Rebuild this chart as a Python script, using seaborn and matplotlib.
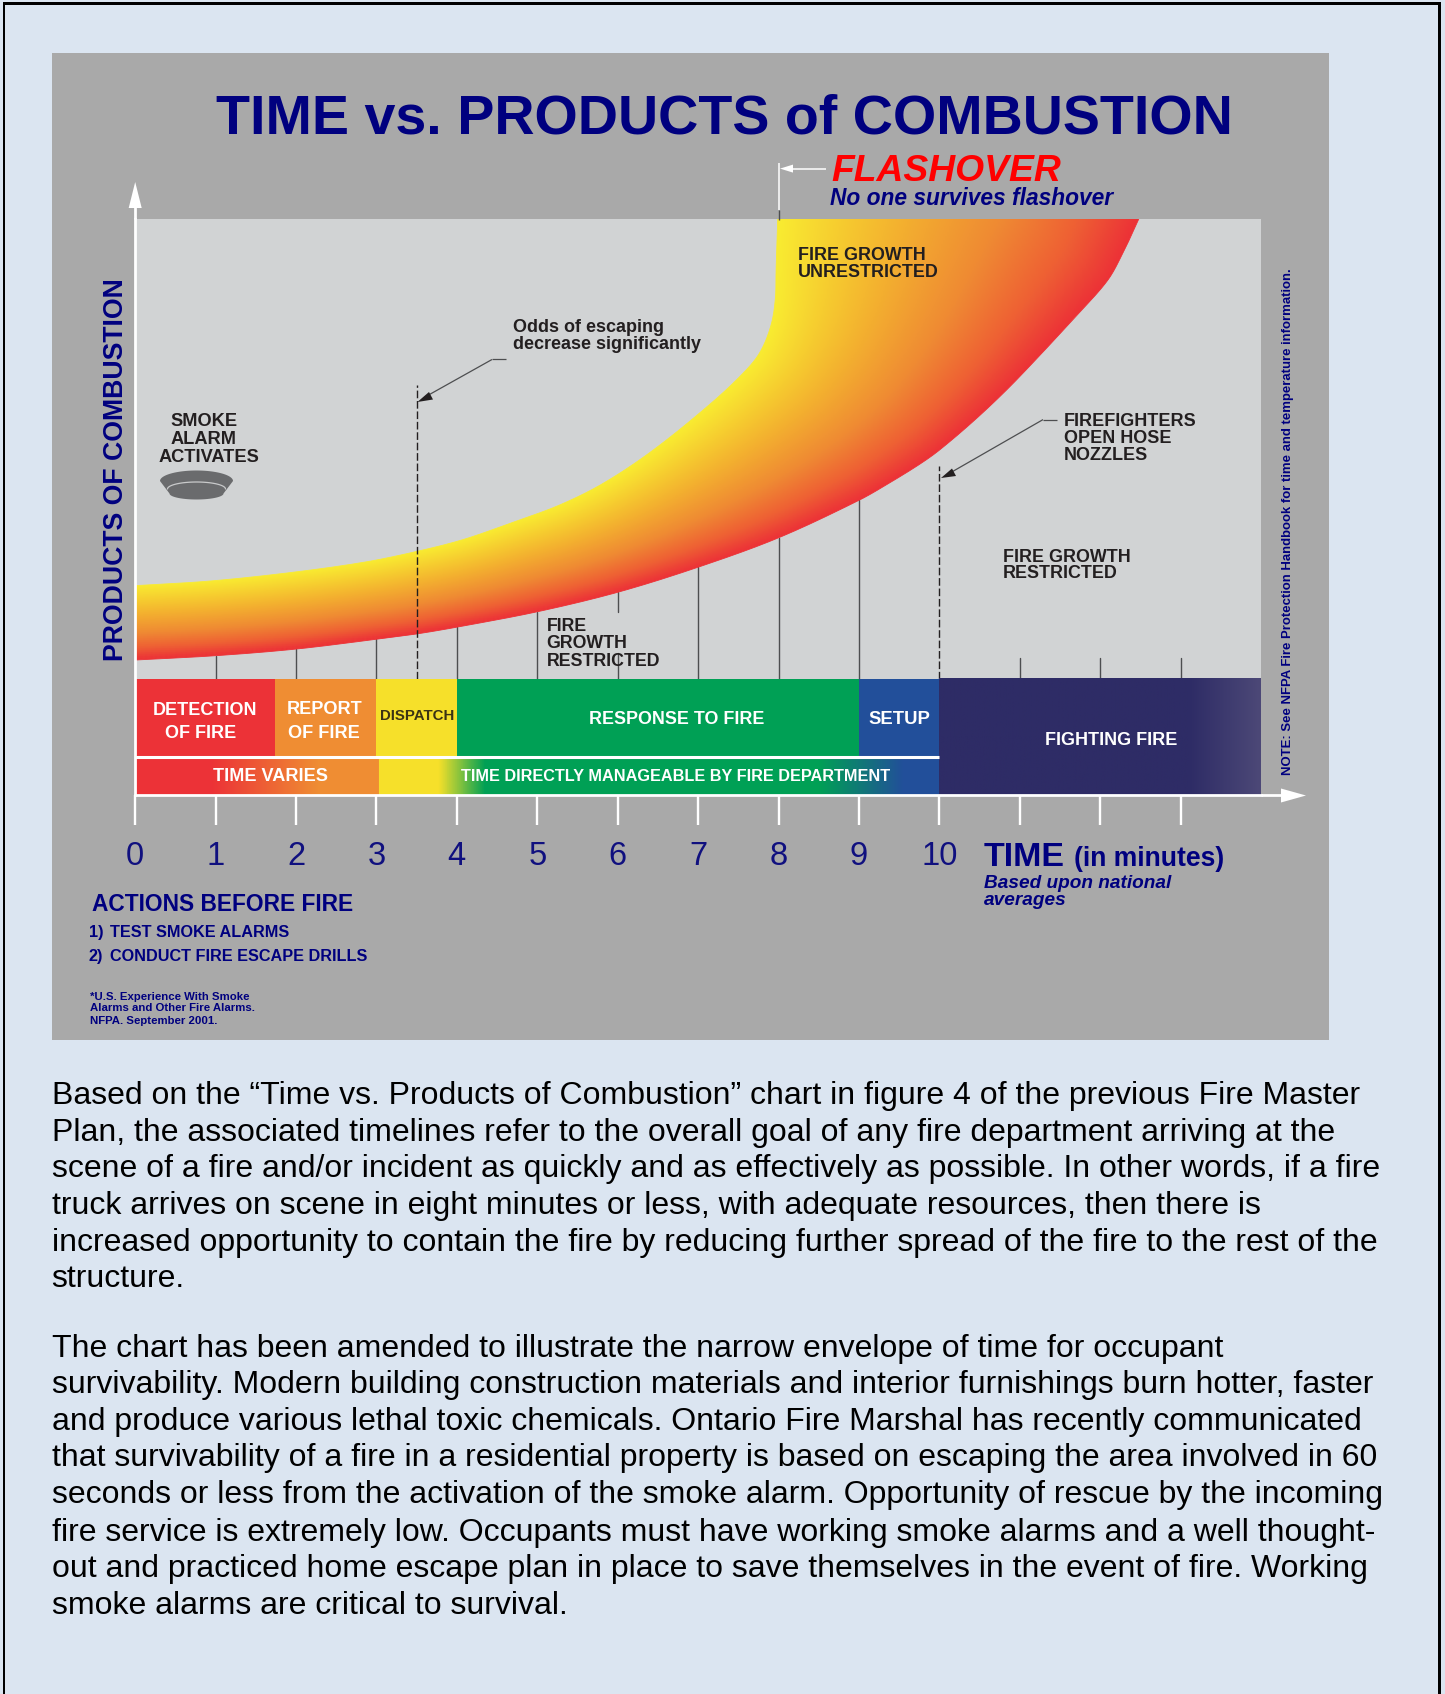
import numpy as np
import matplotlib
matplotlib.use("Agg")
import matplotlib.pyplot as plt
from matplotlib.colors import LinearSegmentedColormap
from matplotlib.patches import Polygon, Rectangle
import seaborn as sns

# Flame envelope: time in minutes against products of combustion (0-100 scale)
upper_minutes = [0, 0.93, 1.92, 2.84, 3.49, 4.08, 4.70, 5.28, 5.82, 6.44, 7.15, 7.57, 7.77, 7.905, 7.96, 7.97, 7.99]
upper_products = [36.4, 37.2, 38.65, 40.45, 42.3, 44.4, 47.4, 50.4, 54.15, 59.9, 67.9, 73.4, 76.9, 81.5, 86.1, 91.3, 100.0]
lower_minutes = [0, 1.0, 2.0, 3.0, 3.49, 4.0, 5.01, 6.0, 7.0, 8.0, 9.0, 9.39, 9.76, 10.0, 10.43, 10.84, 11.26, 11.67, 12.09, 12.29, 12.48]
lower_products = [23.5, 24.25, 25.4, 27.1, 28.0, 29.2, 31.9, 35.25, 39.6, 44.7, 51.2, 54.3, 57.5, 59.9, 65.0, 70.4, 76.5, 82.7, 89.3, 94.3, 100.0]

# Timeline phases along the bottom of the chart
phase_names = ["DETECTION\nOF FIRE", "REPORT\nOF FIRE", "DISPATCH", "RESPONSE TO FIRE", "SETUP"]
phase_starts = [0, 1.74, 3, 4, 9]
phase_ends = [1.74, 3, 4, 9, 10]
phase_colors = ["#ec3237", "#ef8d33", "#f6e02a", "#00a055", "#224f9a"]

minute_ticks = list(range(14))
minute_labels = ["0", "1", "2", "3", "4", "5", "6", "7", "8", "9", "10", "", "", ""]

NAVY = "#00007f"
DARK = "#231f20"
W, H = 1445, 1694
BODY = ["Based on the \u201cTime vs. Products of Combustion\u201d chart in figure 4 of the previous Fire Master",
        "Plan, the associated timelines refer to the overall goal of any fire department arriving at the",
        "scene of a fire and/or incident as quickly and as effectively as possible. In other words, if a fire",
        "truck arrives on scene in eight minutes or less, with adequate resources, then there is",
        "increased opportunity to contain the fire by reducing further spread of the fire to the rest of the",
        "structure.",
        "The chart has been amended to illustrate the narrow envelope of time for occupant",
        "survivability. Modern building construction materials and interior furnishings burn hotter, faster",
        "and produce various lethal toxic chemicals. Ontario Fire Marshal has recently communicated",
        "that survivability of a fire in a residential property is based on escaping the area involved in 60",
        "seconds or less from the activation of the smoke alarm. Opportunity of rescue by the incoming",
        "fire service is extremely low. Occupants must have working smoke alarms and a well thought-",
        "out and practiced home escape plan in place to save themselves in the event of fire. Working",
        "smoke alarms are critical to survival."]
BODY_BASE = [1104, 1141, 1177, 1214, 1251, 1287, 1357, 1393, 1430, 1466, 1503, 1541, 1577, 1614]

sns.set_theme(style="white")
plt.rcParams["font.family"] = ["Liberation Sans", "DejaVu Sans"]

fig = plt.figure(figsize=(W / 100, H / 100), dpi=100, facecolor="#dbe5f1")


def fx(px):
    return px / W


def fy(py):
    return 1 - py / H


def label(x, y, s, size, color=DARK, weight="bold", style="normal", ha="left", **kw):
    """Place text by its pixel anchor and baseline; size is given in pixels."""
    return fig.text(fx(x), fy(y), s, fontsize=size * 0.72, color=color, fontweight=weight,
                    fontstyle=style, ha=ha, va="baseline", **kw)


# Page frame and grey chart backdrop
for rect in [(3, 2, 2.2, H), (1438, 2, 3, H), (3, 2, 1438, 2.8)]:
    fig.add_artist(Rectangle((fx(rect[0]), fy(rect[1] + rect[3])), rect[2] / W, rect[3] / H,
                             transform=fig.transFigure, fc="black", ec="none"))
fig.add_artist(Rectangle((fx(52), fy(1040)), fx(1277), (1040 - 53) / H, transform=fig.transFigure,
                         fc="#a9a9a9", ec="none"))

# Chart axes: minutes across, product level upward
L, R, T, B = 135.2, 1261, 219, 795.5
XMAX = 14.0
ax = fig.add_axes([fx(L), fy(B), fx(R - L), (B - T) / H], facecolor="#d1d3d4", zorder=2)
ax.set_xlim(0, XMAX)
ax.set_ylim(0, 100)
px_x, px_y = (R - L) / XMAX, (B - T) / 100


def smooth_edge(xs, ys, steps=24):
    """Trace a curve through the read points with Bezier segments, measured in screen units."""
    p = np.column_stack([np.array(xs) * px_x, np.array(ys) * px_y])
    tang = np.gradient(p, axis=0)
    tang[1:-1] = p[2:] - p[:-2]
    tang /= np.linalg.norm(tang, axis=1, keepdims=True)
    out = []
    t = np.linspace(0, 1, steps, endpoint=False)[:, None]
    for a, b, ta, tb in zip(p[:-1], p[1:], tang[:-1], tang[1:]):
        seg_len = np.linalg.norm(b - a) / 3
        c1, c2 = a + ta * seg_len, b - tb * seg_len
        out.append((1 - t) ** 3 * a + 3 * (1 - t) ** 2 * t * c1 + 3 * (1 - t) * t ** 2 * c2 + t ** 3 * b)
    out.append(p[-1:])
    out = np.vstack(out)
    return out[:, 0] / px_x, out[:, 1] / px_y


upper_x, upper_y = smooth_edge(upper_minutes, upper_products)
lower_x, lower_y = smooth_edge(lower_minutes, lower_products)

# Shade the flame by relative distance between its two edges
gx, gy = np.meshgrid(np.linspace(0, XMAX, 560), np.linspace(20, 100, 230))


def nearest(cx, cy):
    d = np.full(gx.shape, np.inf)
    for a, b in zip(cx, cy):
        d = np.minimum(d, ((gx - a) * px_x) ** 2 + ((gy - b) * px_y) ** 2)
    return np.sqrt(d)


du, dl = nearest(upper_x, upper_y), nearest(lower_x, lower_y)
flame_cmap = LinearSegmentedColormap.from_list(
    "flame", [(0, "#f9ec31"), (0.35, "#f4b72f"), (0.65, "#ef8a33"), (0.85, "#ee5f34"), (1, "#ec3237")])
im = ax.imshow(du / (du + dl + 1e-6), extent=(0, XMAX, 20, 100), origin="lower", aspect="auto",
               cmap=flame_cmap, vmin=0, vmax=1, zorder=2)
outline = Polygon(np.column_stack([np.r_[upper_x, lower_x[::-1]], np.r_[upper_y, lower_y[::-1]]]),
                  closed=True, transform=ax.transData, fc="none", ec="none")
ax.add_patch(outline)
im.set_clip_path(outline)
ax.set_xlim(0, XMAX)
ax.set_ylim(0, 100)

# Edges of the flame
sns.lineplot(x=upper_x, y=upper_y, ax=ax, color="#f9ec31", lw=0.6, zorder=3, estimator=None, sort=False)
sns.lineplot(x=lower_x, y=lower_y, ax=ax, color="#ec3237", lw=0.6, zorder=3, estimator=None, sort=False)

# Minute markers rising from the timeline
BAR_TOP = 20.26
line_c = "#4d4e50"
for m in [1, 2, 3, 4, 5, 7, 8, 9]:
    ax.plot([m, m], [BAR_TOP, np.interp(m, lower_minutes, lower_products)], color=line_c, lw=1.0, zorder=1.5)
ax.plot([6, 6], [BAR_TOP, 24.8], color=line_c, lw=1.0, zorder=1.5)
ax.plot([6, 6], [31.8, np.interp(6, lower_minutes, lower_products)], color=line_c, lw=1.0, zorder=1.5)
for m in [11, 12, 13]:
    ax.plot([m, m], [BAR_TOP, 23.8], color=line_c, lw=1.0, zorder=1.5)
ax.plot([3.5, 3.5], [BAR_TOP, 71.2], color="#231f20", lw=1.0, dashes=(5.5, 2), zorder=3.5)
ax.plot([10, 10], [BAR_TOP, 57.1], color="#231f20", lw=1.0, dashes=(5.5, 2), zorder=3.5)

# Upper row of timeline phases
for name, a, b, c in zip(phase_names, phase_starts, phase_ends, phase_colors):
    ax.barh((BAR_TOP + 6.7) / 2, b - a, left=a, height=BAR_TOP - 6.7, color=c, lw=0, zorder=4)

# Lower row: colours blend across the phases, then fire fighting spans both rows
row_cmap = LinearSegmentedColormap.from_list("row", [
    (0 / 10, "#ec3237"), (0.95 / 10, "#ec3237"), (2.27 / 10, "#ef8d33"), (3.019 / 10, "#ef8d33"),
    (3.02 / 10, "#f6e02a"), (3.77 / 10, "#f6e02a"), (4.35 / 10, "#00a055"), (8.5 / 10, "#00a055"),
    (9.55 / 10, "#224f9a"), (10 / 10, "#224f9a")], N=2048)
ax.imshow(np.linspace(0, 1, 2000)[None, :], extent=(0, 10, 0, 6.7), aspect="auto", cmap=row_cmap, zorder=4,
          interpolation="nearest")
fight_cmap = LinearSegmentedColormap.from_list("fight", [(0, "#2e2c66"), (0.78, "#2e2c66"), (1, "#4c4877")])
ax.imshow(np.linspace(0, 1, 400)[None, :], extent=(10, XMAX, 0, BAR_TOP), aspect="auto", cmap=fight_cmap, zorder=4)
ax.plot([0, 10], [6.75, 6.75], color="white", lw=2.2, zorder=5, solid_capstyle="butt")
ax.set_xlim(0, XMAX)
ax.set_ylim(0, 100)

# White axes with minute ticks underneath
for side in ["top", "right"]:
    ax.spines[side].set_visible(False)
for side in ["left", "bottom"]:
    ax.spines[side].set_color("white")
    ax.spines[side].set_linewidth(2.0)
    ax.spines[side].set_zorder(6)
ax.set_yticks([])
ax.set_xticks(minute_ticks, minute_labels)
ax.tick_params(axis="x", length=21.5, width=1.7, color="white", pad=11, labelsize=23.5, labelcolor="#10107f",
               bottom=True)
ax.set_ylabel("PRODUCTS OF COMBUSTION", color=NAVY, fontweight="bold", fontsize=19.2)
ax.yaxis.set_label_coords(-0.0055, 0.565)

# Axis arrowheads and the flashover pointer
arrow_kw = dict(transform=fig.transFigure, fc="white", ec="none", zorder=6, clip_on=False)
def tri(pts):
    fig.add_artist(Polygon([(fx(a), fy(b)) for a, b in pts], **arrow_kw))
def seg(x0, y0, x1, y1, c="white", lw=1.6):
    fig.add_artist(plt.Line2D([fx(x0), fx(x1)], [fy(y0), fy(y1)], color=c, lw=lw, zorder=6, solid_capstyle="butt"))
seg(135.2, 207, 135.2, 219, lw=2.0)
tri([(135.2, 182), (128.7, 208), (141.7, 208)])
seg(1261, 795.5, 1283, 795.5, lw=2.0)
tri([(1306, 795.5), (1281, 788.5), (1281, 802.5)])
seg(778.5, 163, 778.5, 210, lw=1.1)
seg(778.5, 210, 778.5, 220, c=line_c, lw=1.0)
seg(790, 168.6, 826, 168.6, lw=1.1)
tri([(780, 168.6), (793, 164.6), (793, 172.6)])

# Call-out leaders
seg(506, 359.5, 492, 359.5, c=line_c, lw=0.9)
seg(492, 359.5, 425, 397, c=line_c, lw=0.9)
fig.add_artist(Polygon([(fx(a), fy(b)) for a, b in [(417.4, 402), (429, 392), (433, 399.5)]],
                       transform=fig.transFigure, fc="#231f20", ec="none", zorder=6))
seg(1057, 419.6, 1043, 419.6, c=line_c, lw=0.9)
seg(1043, 419.6, 950, 473, c=line_c, lw=0.9)
fig.add_artist(Polygon([(fx(a), fy(b)) for a, b in [(941, 478), (952, 468.5), (956, 476)]],
                       transform=fig.transFigure, fc="#231f20", ec="none", zorder=6))

# Smoke alarm icon: a domed disc with a pale rim highlight
ax_h = fig.add_axes([0, 0, 1, 1], zorder=3)
ax_h.set_xlim(0, W)
ax_h.set_ylim(H, 0)
ax_h.axis("off")
ang = np.linspace(np.pi, 0, 60)
dome = np.column_stack([196.5 + 36.5 * np.cos(ang), 481 - 10.5 * np.sin(ang)])
base = np.column_stack([196.5 + 27 * np.cos(ang[::-1]), 493.5 + 6 * np.sin(ang[::-1])])
ax_h.add_patch(Polygon(np.vstack([dome, base]), fc="#6a6b6d", ec="none"))
ax_h.plot(196.5 + 29 * np.cos(ang), 489 - 7 * np.sin(ang), color="#c9cacb", lw=0.9)

# Chart headings
label(216, 134, "TIME vs. PRODUCTS of COMBUSTION", 55.6, NAVY, zorder=7)
label(831, 181, "FLASHOVER", 37.3, "#ff0000", style="italic", zorder=7)
label(830, 205, "No one survives flashover", 22.7, NAVY, style="italic", zorder=7)

# Annotations over the chart
for x, y, s, px in [(513, 331.5, "Odds of escaping", 18), (513, 349, "decrease significantly", 18),
                    (170.5, 426.5, "SMOKE", 18.3), (170.5, 444, "ALARM", 18.3), (158.5, 461.5, "ACTIVATES", 18.3),
                    (798, 260, "FIRE GROWTH", 17.9), (798, 277, "UNRESTRICTED", 17.9),
                    (1064, 425.5, "FIREFIGHTERS", 18), (1064, 443, "OPEN HOSE", 18), (1064, 460.5, "NOZZLES", 18),
                    (1003, 561.5, "FIRE GROWTH", 17.9), (1003, 578.5, "RESTRICTED", 17.9),
                    (546.5, 631, "FIRE", 17.8), (546.5, 648, "GROWTH", 17.8), (546.5, 665.5, "RESTRICTED", 17.8)]:
    label(x, y, s, px, zorder=7)

# Phase captions
for x, y, s, px in [(205.5, 715, "DETECTION", 18), (201, 738.5, "OF FIRE", 18),
                    (325, 714.5, "REPORT", 18.2), (324, 737.5, "OF FIRE", 18.2),
                    (677, 724, "RESPONSE TO FIRE", 17.85), (899, 724, "SETUP", 18.5),
                    (1111.5, 745, "FIGHTING FIRE", 18), (270, 781, "TIME VARIES", 18.1)]:
    label(x, y, s, px, "white", ha="center", zorder=7)
label(380, 720, "DISPATCH", 15, "#3a3214", zorder=7)
label(461, 781, "TIME DIRECTLY MANAGEABLE BY FIRE DEPARTMENT", 16.27, "white", zorder=7)

# Time axis caption
label(984, 866, "TIME", 34, NAVY, zorder=7)
label(1074, 866, "(in minutes)", 26.5, NAVY, zorder=7)
label(984, 888, "Based upon national", 19, NAVY, style="italic", zorder=7)
label(984, 905, "averages", 19, NAVY, style="italic", zorder=7)

# Actions block and source note
label(92, 911, "ACTIONS BEFORE FIRE", 22.74, NAVY, zorder=7)
label(88.5, 937, "1)", 16.25, NAVY, zorder=7)
label(110, 937, "TEST SMOKE ALARMS", 16.25, NAVY, zorder=7)
label(88.5, 960.5, "2)", 16.25, NAVY, zorder=7)
label(110, 960.5, "CONDUCT FIRE ESCAPE DRILLS", 16.25, NAVY, zorder=7)
for y, s in zip([999.5, 1011, 1024], ["*U.S. Experience With Smoke", "Alarms and Other Fire Alarms.", "NFPA. September 2001."]):
    label(90.5, y, s, 11.4, NAVY, zorder=7)
fig.text(fx(1288), fy(775), "NOTE: See NFPA Fire Protection Handbook for time and temperature information.",
         rotation=90, ha="center", va="bottom", fontsize=9.43, color=NAVY, fontweight="bold", zorder=7)

# Body copy
for y, s in zip(BODY_BASE, BODY):
    label(51.5, y, s, 32, "black", weight="normal")

fig.savefig("out.png", dpi=100, facecolor=fig.get_facecolor())
